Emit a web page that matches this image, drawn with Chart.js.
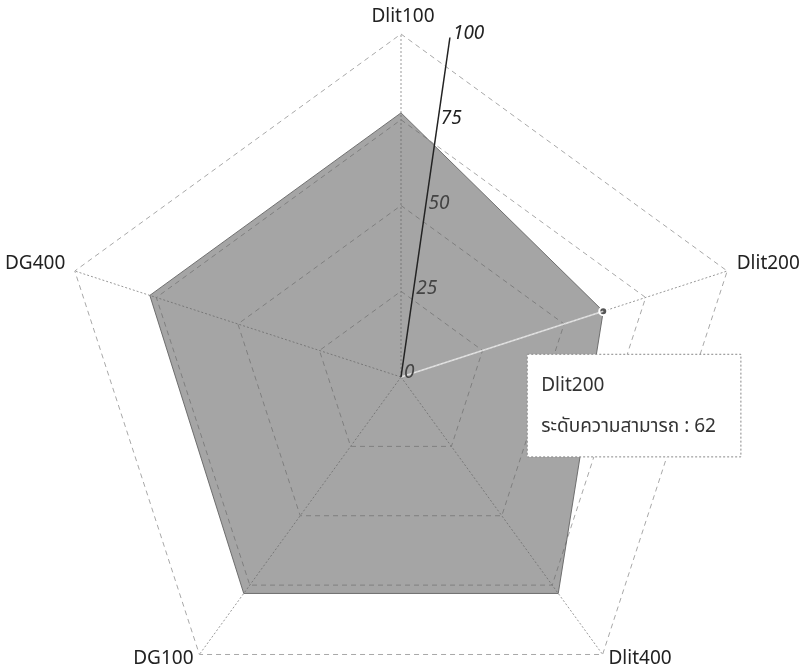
<!DOCTYPE html>
<html>
<head>
<meta charset="utf-8">
<script src="https://cdn.jsdelivr.net/npm/chart.js@4.4.0/dist/chart.umd.min.js"></script>
<style>
  html, body { margin: 0; padding: 0; background: #ffffff; overflow: hidden; }
  #view { width: 802px; height: 672px; overflow: hidden; position: relative; }
  #wrap { width: 802px; height: 720px; position: absolute; left: 0; top: 0; }
</style>
</head>
<body>
<div id="view"><div id="wrap"><canvas id="c"></canvas></div></div>
<script>
// ---- data ----
const categories = ['Dlit100', 'Dlit200', 'Dlit400', 'DG100', 'DG400'];
const seriesLabel = 'ระดับความสามารถ';
const seriesValues = [77, 62, 78, 78, 77];
const tickValues = [0, 25, 50, 75, 100];
const activeIndex = 1;

const FONT = "'Noto Sans', 'Noto Sans Thai', 'Open Sans', sans-serif";
const TICK_AXIS_ANGLE = 8.2 * Math.PI / 180;

// custom point labels (positioned beside the outer vertices)
const pointLabelPlugin = {
  id: 'pointLabelPlugin',
  afterDraw(chart) {
    const s = chart.scales.r;
    const ctx = chart.ctx;
    ctx.save();
    ctx.font = '19px ' + FONT;
    ctx.fillStyle = '#222';
    ctx.textBaseline = 'middle';
    categories.forEach((lab, i) => {
      const a = s.getIndexAngle(i);
      const p = s.getPointPosition(i, s.drawingArea + 10);
      const sx = Math.sin(a);
      if (Math.abs(sx) < 0.1) {
        ctx.textAlign = 'center';
        ctx.fillText(lab, p.x + 2, p.y - 7);
      } else {
        ctx.textAlign = sx > 0 ? 'left' : 'right';
        ctx.fillText(lab, p.x, p.y - 4);
      }
    });
    ctx.restore();
  }
};

// tilted tick axis with labels
const tickAxisPlugin = {
  id: 'tickAxisPlugin',
  afterDatasetsDraw(chart) {
    const s = chart.scales.r;
    const ctx = chart.ctx;
    const dx = Math.sin(TICK_AXIS_ANGLE), dy = -Math.cos(TICK_AXIS_ANGLE);
    const maxD = s.getDistanceFromCenterForValue(tickValues[tickValues.length - 1]);
    ctx.save();
    const act = chart.getActiveElements();
    if (act.length) {
      const el = act[0].element;
      ctx.strokeStyle = 'rgba(255,255,255,0.7)';
      ctx.lineWidth = 1.5;
      ctx.beginPath();
      ctx.moveTo(s.xCenter, s.yCenter);
      ctx.lineTo(el.x, el.y);
      ctx.stroke();
    }
    ctx.strokeStyle = '#222';
    ctx.lineWidth = 1.5;
    ctx.beginPath();
    ctx.moveTo(s.xCenter, s.yCenter);
    ctx.lineTo(s.xCenter + dx * maxD, s.yCenter + dy * maxD);
    ctx.stroke();
    ctx.font = 'italic 19px ' + FONT;
    ctx.textAlign = 'left';
    ctx.textBaseline = 'middle';
    tickValues.forEach(v => {
      const d = s.getDistanceFromCenterForValue(v);
      ctx.fillStyle = v >= 75 ? '#222' : '#444';
      ctx.fillText(String(v), s.xCenter + dx * d + 3, s.yCenter + dy * d - 4);
    });
    ctx.restore();
  },
  beforeTooltipDraw(chart) {
    chart.ctx.setLineDash([2, 2]);
  },
  afterTooltipDraw(chart) {
    chart.ctx.setLineDash([]);
  }
};

Chart.Tooltip.positioners.belowPoint = function (elements) {
  if (!elements.length) return false;
  const el = elements[0].element;
  return { x: el.x - 76, y: el.y + 43 };
};

const chart = new Chart(document.getElementById('c'), {
  type: 'radar',
  data: {
    labels: categories,
    datasets: [{
      label: seriesLabel,
      data: seriesValues,
      backgroundColor: 'rgba(95,95,95,0.56)',
      borderColor: 'rgba(100,100,100,0.9)',
      borderWidth: 1,
      pointRadius: 0,
      pointHoverRadius: 4,
      pointHoverBackgroundColor: '#555',
      pointHoverBorderColor: '#fff',
      pointHoverBorderWidth: 2,
      fill: true
    }]
  },
  options: {
    responsive: true,
    maintainAspectRatio: false,
    animation: false,
    layout: { padding: { top: 34, bottom: 0, left: 0, right: 0 } },
    events: [],
    plugins: {
      legend: { display: false },
      tooltip: {
        enabled: true,
        position: 'belowPoint',
        xAlign: 'left',
        yAlign: 'top',
        caretSize: 0,
        caretPadding: 0,
        cornerRadius: 0,
        backgroundColor: '#ffffff',
        borderColor: '#888',
        borderWidth: 1,
        titleColor: '#333',
        bodyColor: '#333',
        titleFont: { family: FONT, size: 19, weight: 'normal' },
        bodyFont: { family: FONT, size: 19, weight: 'normal' },
        titleMarginBottom: 18,
        padding: { top: 20, bottom: 19, left: 14, right: 25 },
        displayColors: false,
        callbacks: {
          label: (c) => c.dataset.label + ' : ' + c.parsed.r
        }
      }
    },
    scales: {
      r: {
        min: 0,
        max: 100,
        ticks: { stepSize: 25, display: false },
        pointLabels: { display: false },
        grid: { color: '#a8a8a8', lineWidth: 1 },
        border: { dash: [5, 4] },
        angleLines: { color: '#999', lineWidth: 1, borderDash: [2, 2] }
      }
    }
  },
  plugins: [pointLabelPlugin, tickAxisPlugin]
});

const act = [{ datasetIndex: 0, index: activeIndex }];
chart.setActiveElements(act);
chart.tooltip.setActiveElements(act, { x: 0, y: 0 });
chart.update();
</script>
</body>
</html>
